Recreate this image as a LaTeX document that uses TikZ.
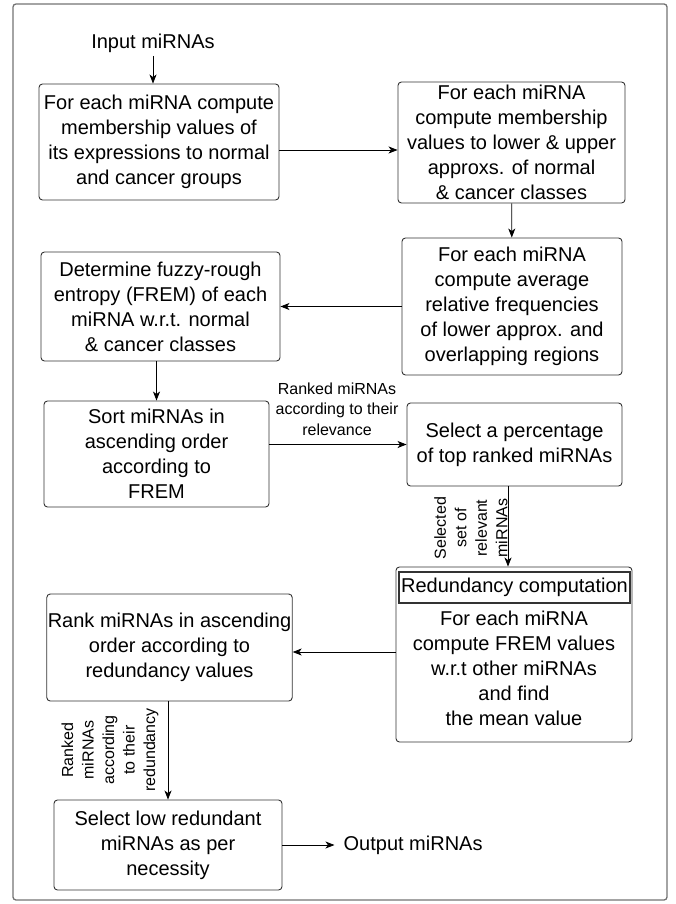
\documentclass[tikz,border=0pt]{standalone}
\usepackage{fontspec}
\setmainfont{Liberation Sans}
\usetikzlibrary{arrows.meta,positioning}

\begin{document}
\begin{tikzpicture}[x=1pt,y=-1pt,
  font=\fontsize{20pt}{25pt}\selectfont,
  box/.style={draw=black!80,line width=0.9pt,rounded corners=3.5pt,align=center,inner sep=2pt},
  hd/.style={draw=black!80,line width=1.1pt,inner sep=1pt,minimum width=231pt,minimum height=31pt},
  lab/.style={font=\fontsize{16pt}{20.5pt}\selectfont,align=center,inner sep=1pt},
  rlab/.style={lab,rotate=90},
  arr/.style={-{Stealth[length=9pt,width=7pt,inset=2.5pt]},line width=0.8pt},
  frame/.style={draw=black!55,line width=1.3pt,rounded corners=3pt}]
  \useasboundingbox (0,0) rectangle (675,904);
  \draw[frame] (13,4) rectangle (667,900);
  \node (inp) at (153,43) {Input miRNAs};
  \node[box,minimum width=240pt,minimum height=116pt] (memb) at (159,142) {For each miRNA compute\\membership values of\\its expressions to normal\\and cancer groups};
  \node[box,minimum width=227pt,minimum height=121pt] (low) at (511.5,142.5) {For each miRNA\\compute membership\\values to lower \& upper\\approxs. of normal\\\& cancer classes};
  \node[box,minimum width=220pt,minimum height=137pt] (avg) at (512,306.5) {For each miRNA\\compute average\\relative frequencies\\of lower approx. and\\overlapping regions};
  \node[box,minimum width=239pt,minimum height=109pt] (frem) at (160.5,306.5) {Determine fuzzy-rough\\entropy (FREM) of each\\miRNA w.r.t. normal\\\& cancer classes};
  \node[box,minimum width=225pt,minimum height=106pt] (sort) at (156.5,454) {Sort miRNAs in\\ascending order\\according to\\FREM};
  \node[box,minimum width=215pt,minimum height=83pt] (pct) at (514.5,444.5) {Select a percentage\\of top ranked miRNAs};
  % redundancy box with its title
  \node[box,minimum width=236pt,minimum height=175pt] (redun) at (514,654.5) {};
  \node[hd] (rhd) at (514.5,587.5) {Redundancy computation};
  \node[align=center] (rtxt) at (514,668) {For each miRNA\\compute FREM values\\w.r.t other miRNAs\\and find\\the mean value};
  \node[box,minimum width=245pt,minimum height=107pt,inner sep=1pt] (rank) at (169.5,647.5) {Rank miRNAs in ascending\\order according to\\redundancy values};
  \node[box,minimum width=228pt,minimum height=90pt] (sel) at (168,845) {Select low redundant\\miRNAs as per\\necessity};
  \node[right=52pt of sel,inner xsep=9pt,inner ysep=2pt] (out) {Output miRNAs};
  \node[lab] (rel) at (337,409) {Ranked miRNAs\\according to their\\relevance};
  \node[rlab] (chosen) at (471,528) {Selected\\set of\\relevant\\miRNAs};
  \node[rlab] (rnk) at (110,750) {Ranked\\miRNAs\\according\\to their\\redundancy};
  \draw[arr] (inp.south) -- (inp.south |- memb.north);
  \draw[arr] ([yshift=-8pt]memb.east) -- ([yshift=-8pt]memb.east -| low.west);
  \draw[arr] (low) -- (avg); \draw[arr] (avg) -- (frem);
  \draw[arr] (sort.north |- frem.south) -- (sort.north);
  \draw[arr] (sort.east |- pct.west) -- (pct.west);
  \draw[arr] ([xshift=-6.5pt]pct.south) -- ([xshift=-6.5pt]pct.south |- redun.north);
  \draw[arr] ([yshift=2.5pt]redun.west) -- ([yshift=2.5pt]redun.west -| rank.east);
  \draw[arr] (sel.north |- rank.south) -- (sel.north);
  \draw[arr] (sel) -- (out);
\end{tikzpicture}
\end{document}
